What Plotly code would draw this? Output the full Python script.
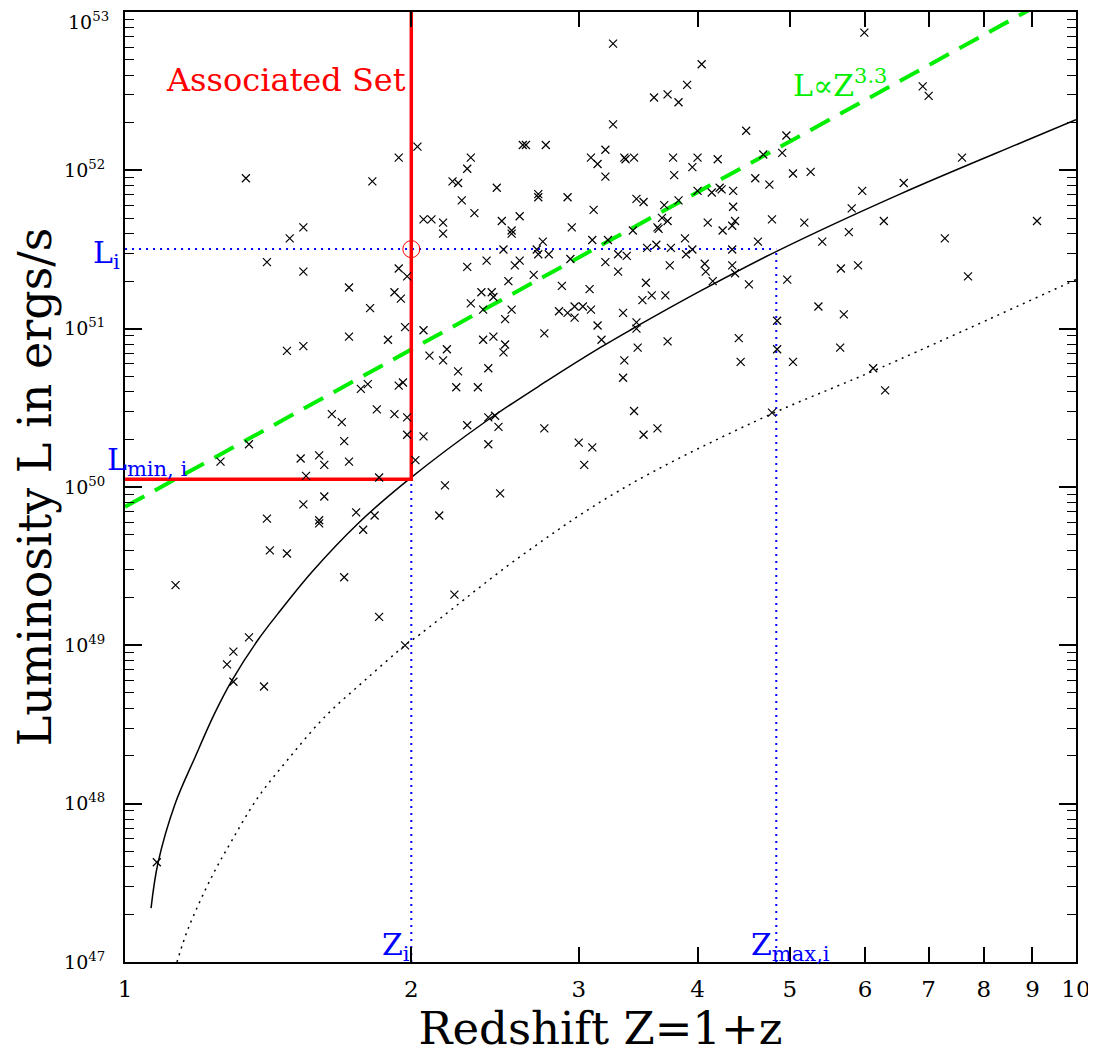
import plotly.graph_objects as go

# ---------------- data ----------------
# observed sources: redshift Z = 1+z and log10 of luminosity (erg/s)
z_obs = [
    5.99, 3.26, 4.04, 3.90, 3.60, 3.72, 3.82, 3.26, 4.50, 4.96, 6.90, 7.00, 1.94, 2.03,
    2.31, 2.62, 2.64, 2.77, 3.09, 3.20, 3.35, 3.36, 3.43, 3.77, 4.00, 4.20, 1.34, 1.49,
    1.41, 2.29, 1.82, 2.21, 2.24, 2.46, 2.26, 2.72, 2.72, 2.92, 3.14, 3.11, 2.33, 2.06,
    2.10, 2.16, 2.49, 2.60, 2.16, 2.55, 2.55, 1.54, 2.95, 3.10, 2.75, 2.71, 2.72, 2.50,
    2.79, 2.94, 2.40, 2.60, 2.57, 2.29, 1.94, 1.98, 1.54, 2.69, 2.53, 2.88, 3.08, 1.72,
    1.92, 1.95, 2.37, 2.43, 2.44, 1.81, 2.31, 2.55, 2.38, 2.86, 2.92, 2.97, 3.03, 3.09,
    2.97, 2.51, 1.97, 2.06, 2.76, 3.14, 1.72, 1.89, 2.38, 2.44, 2.51, 1.54,
    3.95, 4.69, 4.91, 3.20, 3.78, 5.04, 5.26, 4.60, 4.76, 3.45, 3.51, 3.69, 3.82, 4.00,
    4.14, 4.22, 4.24, 4.36, 4.36, 5.96, 5.81, 3.67, 3.72, 3.63, 3.64, 4.10, 4.38, 4.35,
    4.25, 4.79, 5.18, 6.28, 3.42, 3.22, 3.88, 5.77, 5.41, 4.63, 3.54, 3.62, 3.75, 3.95,
    3.89, 4.35, 3.30, 3.37, 3.20, 3.74, 4.07, 4.08, 4.35, 4.38, 3.30, 5.66, 5.90, 4.97,
    4.15, 4.53, 3.53, 3.50, 3.58, 3.70, 3.34, 3.45, 3.45, 4.85, 5.36, 5.70, 4.42, 3.72,
    3.46, 3.17, 5.65,
    7.59, 6.59, 9.10, 7.28, 7.70, 4.85, 5.04, 6.12, 6.30, 4.79,
    2.50, 2.18, 2.09, 2.16, 2.24, 2.41, 2.23, 2.35, 4.44, 3.35, 3.34, 3.43, 2.29, 2.41,
    2.45, 2.47, 2.06, 2.41, 2.76, 3.00, 3.10, 3.04, 3.51, 3.63, 2.17, 2.48, 2.14, 2.22,
    1.48, 1.77, 1.80, 1.94, 1.96, 1.65, 1.69, 1.84, 1.92, 1.98, 1.98, 1.70, 1.35, 1.26,
    1.53, 1.60, 1.62, 1.72, 1.55, 1.85, 2.02, 1.54, 1.62, 1.41, 1.60, 1.60, 1.75, 1.83,
    1.78, 1.42, 1.48, 1.13, 1.70, 1.85, 1.35, 1.30, 1.28, 1.30, 1.40, 1.97, 1.08,
]
logL_obs = [
    52.87, 52.80, 52.67, 52.54, 52.46, 52.48, 52.43, 52.29, 52.25, 52.22, 52.53, 52.47, 52.08, 52.15,
    52.08, 52.16, 52.16, 52.16, 52.08, 52.13, 52.08, 52.07, 52.08, 52.08, 52.08, 52.07, 51.95, 51.57,
    51.42, 52.01, 51.93, 51.93, 51.92, 51.89, 51.81, 51.85, 51.83, 51.83, 52.04, 51.75, 51.73, 51.69,
    51.69, 51.67, 51.68, 51.71, 51.60, 51.62, 51.60, 51.64, 51.64, 51.56, 51.55, 51.50, 51.47, 51.50,
    51.47, 51.44, 51.43, 51.43, 51.40, 51.39, 51.38, 51.33, 51.36, 51.34, 51.30, 51.27, 51.25, 51.26,
    51.23, 51.19, 51.23, 51.23, 51.20, 51.13, 51.16, 51.12, 51.12, 51.11, 51.10, 51.14, 51.14, 51.12,
    51.07, 51.06, 51.01, 50.99, 50.97, 51.02, 50.95, 50.93, 50.93, 50.95, 50.90, 50.89,
    52.02, 52.10, 52.11, 51.96, 51.97, 51.98, 51.99, 51.95, 51.91, 51.82, 51.80, 51.78, 51.81, 51.87,
    51.86, 51.89, 51.88, 51.87, 51.77, 51.87, 51.76, 51.70, 51.68, 51.64, 51.63, 51.67, 51.68, 51.65,
    51.62, 51.69, 51.67, 51.68, 51.62, 51.56, 51.57, 51.61, 51.55, 51.55, 51.51, 51.53, 51.51, 51.50,
    51.47, 51.50, 51.47, 51.46, 51.42, 51.40, 51.41, 51.36, 51.40, 51.35, 51.36, 51.38, 51.40, 51.31,
    51.30, 51.28, 51.29, 51.18, 51.21, 51.21, 51.10, 51.04, 51.00, 51.05, 51.14, 51.09, 50.94, 50.92,
    50.88, 50.93, 50.88,
    52.08, 51.92, 51.68, 51.57, 51.33, 50.87, 50.79, 50.75, 50.61, 50.47,
    50.85, 50.87, 50.83, 50.80, 50.73, 50.75, 50.63, 50.63, 50.79, 50.80, 50.69, 50.48, 50.39, 50.44,
    50.45, 50.38, 50.32, 50.27, 50.37, 50.28, 50.25, 50.14, 50.33, 50.37, 50.01, 49.96, 49.82, 49.32,
    50.86, 50.62, 50.65, 50.64, 50.66, 50.46, 50.41, 50.49, 50.46, 50.44, 50.33, 50.29, 50.27, 50.16,
    50.18, 50.20, 50.14, 50.16, 50.07, 50.06, 50.17, 49.89, 49.94, 49.80, 49.77, 49.79, 49.84, 49.82,
    49.73, 49.60, 49.58, 49.38, 49.43, 49.18, 49.05, 48.96, 48.88, 48.77, 48.74, 49.00, 47.63,
]

# flux-limit curve (solid) and a curve one decade lower (dotted)
lim_z = [1.065, 1.083, 1.129, 1.185, 1.243, 1.296, 1.380, 1.448, 1.573, 1.758, 1.985,
         2.403, 2.778, 3.159, 3.396, 4.02, 4.85, 6.53, 8.88, 10.0]
lim_logL = [47.34, 47.625, 48.00, 48.295, 48.573, 48.78, 49.035, 49.20, 49.465, 49.77, 50.045,
            50.42, 50.67, 50.88, 50.99, 51.235, 51.49, 51.85, 52.19, 52.32]
low_z = [1.134, 1.165, 1.234, 1.296, 1.380, 1.484, 1.623, 1.788, 1.970, 2.043, 2.603, 3.315,
         4.62, 6.27, 10.0]
low_logL = [47.00, 47.21, 47.54, 47.77, 48.04, 48.28, 48.55, 48.78, 49.00, 49.07, 49.56, 49.98,
            50.42, 50.76, 51.31]

# the example source i and its associated set
Z_I = 2.0
L_I = 3.18e51
L_MIN_I = 1.12e50
Z_MAX_I = 4.84
# power law L ∝ Z^3.3 (normalisation at Z = 1)
PL_NORM = 7.5e49
PL_INDEX = 3.3
pl_z = [1.0, 10.0]

y_tick_exps = [47, 48, 49, 50, 51, 52, 53]
x_tick_vals = [1, 2, 3, 4, 5, 6, 7, 8, 9, 10]

# ---------------- figure ----------------
L_obs = [10.0 ** v for v in logL_obs]
lim_L = [10.0 ** v for v in lim_logL]
low_L = [10.0 ** v for v in low_logL]
pl_L = [PL_NORM * z ** PL_INDEX for z in pl_z]

BLUE = "#0000ff"
RED = "#ff0000"
GREEN = "#00ee00"
FONT = "DejaVu Serif"

fig = go.Figure()

fig.add_trace(go.Scatter(x=[1.0, Z_MAX_I], y=[L_I, L_I], mode="lines",
                         line=dict(color=BLUE, width=2, dash="2px,5px")))
fig.add_trace(go.Scatter(x=[Z_I, Z_I], y=[1e47, L_MIN_I], mode="lines",
                         line=dict(color=BLUE, width=2, dash="2px,5px")))
fig.add_trace(go.Scatter(x=[Z_MAX_I, Z_MAX_I], y=[1e47, L_I], mode="lines",
                         line=dict(color=BLUE, width=2, dash="2px,5px")))

fig.add_trace(go.Scatter(x=lim_z, y=lim_L, mode="lines",
                         line=dict(color="black", width=1.5, shape="spline", smoothing=1.0)))
fig.add_trace(go.Scatter(x=low_z, y=low_L, mode="lines",
                         line=dict(color="black", width=1.5, dash="2px,5px",
                                   shape="spline", smoothing=1.0)))

fig.add_trace(go.Scatter(x=pl_z, y=pl_L, mode="lines",
                         line=dict(color=GREEN, width=4, dash="22px,12px")))

fig.add_trace(go.Scatter(x=[1.0, Z_I, Z_I], y=[L_MIN_I, L_MIN_I, 1e53], mode="lines",
                         line=dict(color=RED, width=3.5)))

fig.add_trace(go.Scatter(x=z_obs, y=L_obs, mode="markers",
                         marker=dict(symbol="x-thin", size=8,
                                     line=dict(width=1.2, color="black"))))

fig.add_trace(go.Scatter(x=[Z_I], y=[L_I], mode="markers",
                         marker=dict(symbol="circle-open", size=17, color=RED,
                                     line=dict(width=1, color=RED))))

annotations = [
    dict(text="Associated Set", xref="paper", yref="paper", x=0.169, y=0.928,
         xanchor="center", yanchor="middle", showarrow=False,
         font=dict(family=FONT, size=32, color=RED)),
    dict(text="L∝Z<sup>3.3</sup>", xref="paper", yref="paper", x=0.700, y=0.925,
         xanchor="left", yanchor="middle", showarrow=False,
         font=dict(family=FONT, size=30, color=GREEN)),
    dict(text="L<sub>i</sub>", xref="paper", yref="paper", x=-0.003, y=0.745,
         xanchor="right", yanchor="middle", showarrow=False,
         font=dict(family=FONT, size=30, color=BLUE)),
    dict(text="L<sub>min, i</sub>", xref="paper", yref="paper", x=-0.021, y=0.527,
         xanchor="left", yanchor="middle", showarrow=False,
         font=dict(family=FONT, size=30, color=BLUE)),
    dict(text="Z<sub>i</sub>", xref="paper", yref="paper", x=0.268, y=-0.006,
         xanchor="left", yanchor="bottom", showarrow=False,
         font=dict(family=FONT, size=30, color=BLUE)),
    dict(text="Z<sub>max,i</sub>", xref="paper", yref="paper", x=0.656, y=-0.006,
         xanchor="left", yanchor="bottom", showarrow=False,
         font=dict(family=FONT, size=30, color=BLUE)),
    # top decade label, kept inside the page so it is not clipped
    dict(text="10<sup>%d</sup>" % y_tick_exps[-1], xref="paper", yref="paper",
         x=-0.0155, y=1.0042, xanchor="right", yanchor="top", showarrow=False,
         borderpad=0, font=dict(family=FONT, size=19, color="black")),
]

minor_y = [k * 10.0 ** e for e in range(47, 53) for k in range(2, 10)]

# the page adds an 8px body margin, so the figure is 8px smaller and shifted margins
fig.update_layout(
    width=1088, height=1049,
    margin=dict(l=117, r=20, t=4, b=95, autoexpand=False),
    paper_bgcolor="white", plot_bgcolor="white",
    showlegend=False,
    annotations=annotations,
    font=dict(family=FONT, color="black"),
    xaxis=dict(
        type="log", range=[-0.00005, 1.00005], automargin=False,
        tickvals=x_tick_vals, ticktext=[str(v) for v in x_tick_vals],
        ticks="inside", ticklen=15, tickwidth=1.5, tickcolor="black",
        showline=True, linewidth=2, linecolor="black", mirror="allticks",
        showgrid=False, zeroline=False,
        tickfont=dict(family=FONT, size=23, color="black"),
        ticklabelstandoff=5, ticklabeloverflow="allow",
        title=dict(text="Redshift Z=1+z", font=dict(family=FONT, size=45, color="black"),
                   standoff=4),
    ),
    yaxis=dict(
        type="log", range=[46.9999, 53.0001], automargin=False,
        tickvals=[10.0 ** e for e in y_tick_exps],
        ticktext=["10<sup>%d</sup>" % e for e in y_tick_exps[:-1]] + [""],
        ticks="inside", ticklen=17, tickwidth=1.5, tickcolor="black",
        minor=dict(tickvals=minor_y, ticks="inside", ticklen=9, tickwidth=1.2,
                   tickcolor="black", showgrid=False),
        showline=True, linewidth=2, linecolor="black", mirror="allticks",
        showgrid=False, zeroline=False,
        tickfont=dict(family=FONT, size=19, color="black"),
        ticklabelstandoff=14, ticklabeloverflow="allow",
        title=dict(text="Luminosity L in ergs/s", font=dict(family=FONT, size=46, color="black"),
                   standoff=8),
    ),
)

fig.write_html("out.html")
